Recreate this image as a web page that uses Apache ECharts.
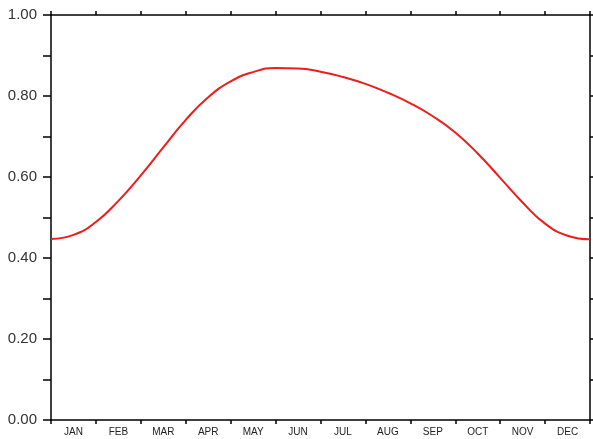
<!DOCTYPE html>
<html>
<head>
<meta charset="utf-8">
<script src="https://cdn.jsdelivr.net/npm/echarts@6/dist/echarts.min.js"></script>
<style>
  html, body { margin: 0; padding: 0; background: #fff; }
  #chart { width: 593px; height: 439px; }
</style>
</head>
<body>
<div id="chart"></div>
<script>
// Month names shown along the bottom axis
const months = ['JAN', 'FEB', 'MAR', 'APR', 'MAY', 'JUN', 'JUL', 'AUG', 'SEP', 'OCT', 'NOV', 'DEC'];

// Position in months since 1 Jan (half-month steps)
const monthPos = [0, 0.5, 1, 1.5, 2, 2.5, 3, 3.5, 4, 4.5, 5, 5.5, 6,
                  6.5, 7, 7.5, 8, 8.5, 9, 9.5, 10, 10.5, 11, 11.5, 12];

// Seasonal fraction at each position
const fraction = [0.447, 0.457, 0.489, 0.541, 0.604, 0.673, 0.741, 0.797, 0.836, 0.859, 0.869, 0.868, 0.860,
                  0.847, 0.830, 0.808, 0.782, 0.750, 0.710, 0.658, 0.598, 0.537, 0.485, 0.455, 0.446];

// Y axis range and tick step
const yMin = 0, yMax = 1, yStep = 0.2;

const chart = echarts.init(document.getElementById('chart'), null, { renderer: 'canvas' });

const frameLine = { show: true, onZero: false, lineStyle: { color: '#000', width: 1.5 } };

chart.setOption({
  animation: false,
  backgroundColor: '#fff',
  grid: { left: 51, right: 3, top: 15, bottom: 19, containLabel: false },
  xAxis: [
    {
      type: 'category',
      data: months,
      position: 'bottom',
      boundaryGap: true,
      axisLine: frameLine,
      axisTick: { show: true, inside: false, length: 4, lineStyle: { color: '#000', width: 1.5 } },
      axisLabel: { color: '#222', fontSize: 10, fontFamily: 'Liberation Sans, Arial, sans-serif', margin: 7 },
      splitLine: { show: false }
    },
    {
      type: 'category',
      data: months,
      position: 'top',
      boundaryGap: true,
      axisLine: frameLine,
      axisTick: { show: true, inside: false, length: 4, lineStyle: { color: '#000', width: 1.5 } },
      axisLabel: { show: false },
      splitLine: { show: false }
    },
    {
      type: 'value',
      min: 0,
      max: 12,
      show: false
    }
  ],
  yAxis: [
    {
      type: 'value',
      position: 'left',
      min: yMin,
      max: yMax,
      interval: yStep,
      axisLine: frameLine,
      axisTick: { show: true, inside: false, length: 8, lineStyle: { color: '#000', width: 1.5 } },
      minorTick: { show: true, splitNumber: 2, length: 8, lineStyle: { color: '#000', width: 1.5 } },
      axisLabel: {
        color: '#333', fontSize: 15, fontFamily: 'Liberation Sans, Arial, sans-serif', margin: 14,
        formatter: v => v.toFixed(2)
      },
      splitLine: { show: false }
    },
    {
      type: 'value',
      position: 'right',
      min: yMin,
      max: yMax,
      interval: yStep,
      axisLine: frameLine,
      axisTick: { show: true, inside: false, length: 4, lineStyle: { color: '#000', width: 1.5 } },
      minorTick: { show: true, splitNumber: 2, length: 4, lineStyle: { color: '#000', width: 1.5 } },
      axisLabel: { show: false },
      splitLine: { show: false }
    }
  ],
  series: [
    {
      type: 'line',
      xAxisIndex: 2,
      yAxisIndex: 0,
      data: monthPos.map((m, i) => [m, fraction[i]]),
      smooth: 0.5,
      showSymbol: false,
      clip: true,
      lineStyle: { color: '#ee1c1c', width: 2 }
    }
  ]
});
</script>
</body>
</html>
